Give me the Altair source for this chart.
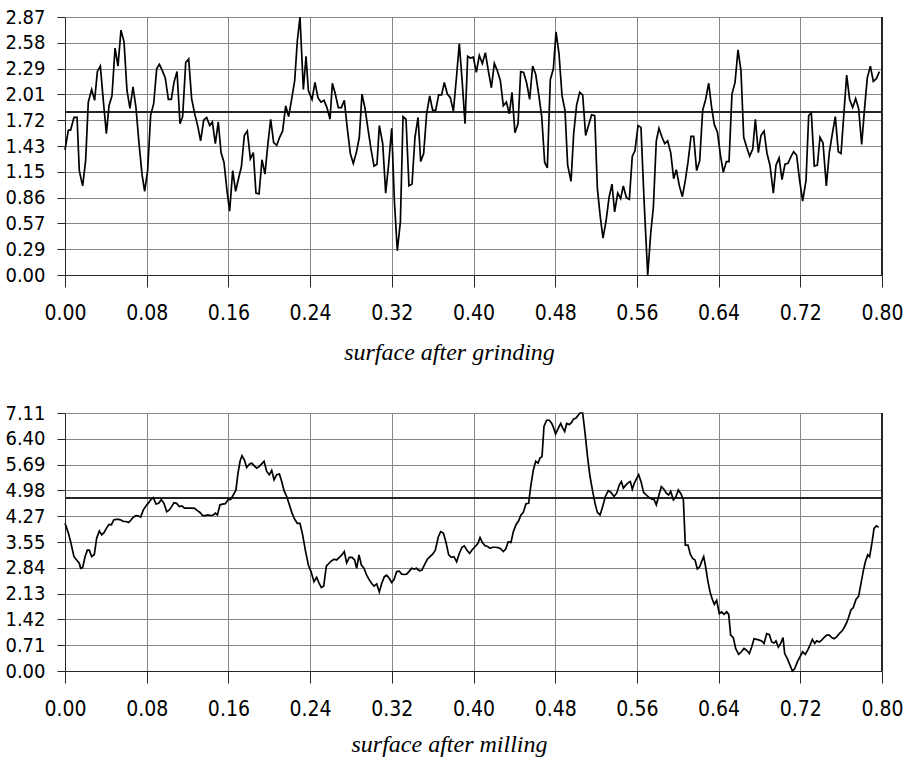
import altair as alt
import pandas as pd

# Roughness profiles: (position along the surface, profile height)
grinding = [
    (0.0000, 1.39), (0.0033, 1.61), (0.0055, 1.61), (0.0088, 1.75), (0.0118, 1.75), (0.0140, 1.16),
    (0.0173, 0.99), (0.0202, 1.27), (0.0228, 1.92), (0.0261, 2.06), (0.0290, 1.94), (0.0317, 2.26),
    (0.0346, 2.32), (0.0375, 1.94), (0.0405, 1.57), (0.0431, 1.88), (0.0460, 1.99), (0.0490, 2.52),
    (0.0519, 2.32), (0.0548, 2.72), (0.0578, 2.59), (0.0607, 2.05), (0.0636, 1.85), (0.0666, 2.09),
    (0.0695, 1.86), (0.0725, 1.46), (0.0754, 1.12), (0.0780, 0.93), (0.0809, 1.16), (0.0839, 1.78),
    (0.0868, 1.90), (0.0898, 2.29), (0.0924, 2.34), (0.0953, 2.27), (0.0982, 2.19), (0.1012, 1.95),
    (0.1041, 1.95), (0.1067, 2.14), (0.1097, 2.26), (0.1126, 1.68), (0.1152, 1.76), (0.1182, 2.36),
    (0.1211, 2.40), (0.1240, 1.96), (0.1270, 1.79), (0.1299, 1.66), (0.1328, 1.49), (0.1358, 1.72),
    (0.1387, 1.75), (0.1417, 1.66), (0.1443, 1.70), (0.1472, 1.46), (0.1501, 1.70), (0.1528, 1.36),
    (0.1557, 1.25), (0.1586, 0.94), (0.1612, 0.71), (0.1642, 1.16), (0.1671, 0.93), (0.1701, 1.08),
    (0.1727, 1.20), (0.1756, 1.55), (0.1785, 1.60), (0.1815, 1.29), (0.1844, 1.36), (0.1870, 0.91),
    (0.1900, 0.90), (0.1929, 1.28), (0.1958, 1.12), (0.1988, 1.47), (0.2014, 1.73), (0.2043, 1.47),
    (0.2073, 1.44), (0.2102, 1.53), (0.2131, 1.60), (0.2161, 1.88), (0.2190, 1.76), (0.2219, 1.95),
    (0.2249, 2.16), (0.2275, 2.60), (0.2301, 2.866),
    (0.2334, 2.06), (0.2360, 2.43), (0.2383, 2.05), (0.2419, 1.95), (0.2448, 2.14), (0.2477, 1.97),
    (0.2507, 1.92), (0.2536, 1.94), (0.2565, 1.86), (0.2595, 1.73), (0.2618, 2.13), (0.2647, 2.01),
    (0.2676, 1.86), (0.2706, 1.86), (0.2735, 1.94), (0.2765, 1.62), (0.2794, 1.35), (0.2823, 1.24),
    (0.2853, 1.36), (0.2882, 1.53), (0.2908, 2.01), (0.2938, 1.85), (0.2967, 1.62), (0.2996, 1.40),
    (0.3026, 1.21), (0.3055, 1.23), (0.3078, 1.66), (0.3111, 1.46), (0.3140, 0.91), (0.3169, 1.23),
    (0.3199, 1.63), (0.3225, 0.83), (0.3254, 0.27), (0.3284, 0.59), (0.3310, 1.76), (0.3339, 1.73),
    (0.3368, 0.99), (0.3398, 1.01), (0.3427, 1.53), (0.3457, 1.75), (0.3483, 1.26), (0.3512, 1.35),
    (0.3541, 1.79), (0.3571, 1.99), (0.3600, 1.83), (0.3630, 1.83), (0.3659, 2.00), (0.3688, 2.00),
    (0.3714, 2.14), (0.3744, 2.01), (0.3773, 1.97), (0.3803, 1.82), (0.3832, 2.18), (0.3861, 2.57),
    (0.3891, 2.12), (0.3917, 1.68), (0.3943, 2.43), (0.3969, 2.41), (0.3998, 2.42), (0.4028, 2.25),
    (0.4057, 2.44), (0.4087, 2.35), (0.4116, 2.47), (0.4145, 2.27), (0.4175, 2.08), (0.4204, 2.35),
    (0.4233, 2.27), (0.4263, 2.16), (0.4292, 1.88), (0.4322, 1.92), (0.4351, 1.79), (0.4377, 2.03),
    (0.4406, 1.58), (0.4436, 1.68), (0.4462, 2.26), (0.4491, 2.25), (0.4521, 2.13), (0.4550, 1.95),
    (0.4579, 2.32), (0.4609, 2.23), (0.4638, 2.01), (0.4668, 1.76), (0.4697, 1.25), (0.4723, 1.19),
    (0.4752, 2.17), (0.4782, 2.29), (0.4808, 2.70), (0.4837, 2.46), (0.4867, 1.99), (0.4896, 1.83),
    (0.4922, 1.22), (0.4955, 1.04), (0.4981, 1.57), (0.5010, 1.89), (0.5040, 2.03), (0.5069, 2.00),
    (0.5098, 1.55), (0.5128, 1.67),
    (0.5157, 1.78), (0.5187, 1.77), (0.5213, 0.96), (0.5242, 0.64), (0.5268, 0.41), (0.5298, 0.60),
    (0.5327, 0.86), (0.5356, 1.01), (0.5382, 0.70), (0.5412, 0.91), (0.5441, 0.85), (0.5467, 0.99),
    (0.5497, 0.86), (0.5526, 0.84), (0.5555, 1.32), (0.5581, 1.38), (0.5611, 1.66), (0.5640, 1.64),
    (0.5670, 0.83), (0.5706, 0.00), (0.5735, 0.46), (0.5761, 0.75), (0.5790, 1.49), (0.5816, 1.63),
    (0.5846, 1.53), (0.5872, 1.46), (0.5901, 1.49), (0.5931, 1.36), (0.5960, 1.07), (0.5986, 1.17),
    (0.6016, 0.99), (0.6045, 0.87), (0.6074, 1.05), (0.6100, 1.25), (0.6130, 1.54), (0.6156, 1.54),
    (0.6185, 1.16), (0.6215, 1.27), (0.6244, 1.83), (0.6273, 1.95), (0.6303, 2.13), (0.6332, 1.86),
    (0.6358, 1.67), (0.6388, 1.59), (0.6417, 1.34), (0.6446, 1.14), (0.6476, 1.26), (0.6502, 1.26),
    (0.6531, 2.01), (0.6561, 2.14), (0.6590, 2.50), (0.6619, 2.27), (0.6646, 1.53), (0.6675, 1.42),
    (0.6704, 1.32), (0.6734, 1.40), (0.6760, 1.73), (0.6789, 1.36), (0.6815, 1.55), (0.6845, 1.60),
    (0.6874, 1.35), (0.6903, 1.22), (0.6936, 0.91), (0.6962, 1.22), (0.6992, 1.30), (0.7021, 1.06),
    (0.7050, 1.23), (0.7080, 1.24), (0.7106, 1.31), (0.7135, 1.37), (0.7164, 1.33), (0.7191, 1.07),
    (0.7223, 0.82), (0.7256, 1.05), (0.7282, 1.77), (0.7308, 1.80), (0.7337, 1.21), (0.7367, 1.22),
    (0.7393, 1.53), (0.7422, 1.47), (0.7455, 0.99), (0.7484, 1.36), (0.7514, 1.57), (0.7543, 1.76),
    (0.7572, 1.37), (0.7599, 1.35), (0.7628, 1.81), (0.7654, 2.22), (0.7683, 1.95), (0.7713, 1.86),
    (0.7742, 1.96), (0.7771, 1.85), (0.7801, 1.45), (0.7830, 1.86), (0.7856, 2.19), (0.7886, 2.32),
    (0.7915, 2.15), (0.7945, 2.18), (0.7974, 2.26),
]

milling = [
    (0.0000, 4.07), (0.0033, 3.80), (0.0055, 3.56), (0.0088, 3.15), (0.0114, 3.06), (0.0140, 2.97),
    (0.0153, 2.83), (0.0173, 2.85), (0.0196, 3.15), (0.0219, 3.33), (0.0238, 3.33), (0.0261, 3.15),
    (0.0287, 3.21), (0.0310, 3.66), (0.0336, 3.86), (0.0359, 3.75), (0.0382, 3.81), (0.0405, 3.93),
    (0.0431, 4.04), (0.0454, 4.03), (0.0477, 4.16), (0.0499, 4.18), (0.0526, 4.18), (0.0548, 4.16),
    (0.0571, 4.12), (0.0597, 4.12), (0.0623, 4.09), (0.0646, 4.16), (0.0669, 4.24), (0.0695, 4.28),
    (0.0721, 4.27), (0.0741, 4.24), (0.0767, 4.44), (0.0793, 4.55), (0.0819, 4.64), (0.0839, 4.72),
    (0.0865, 4.78), (0.0891, 4.60), (0.0917, 4.62), (0.0943, 4.72), (0.0969, 4.62), (0.0996, 4.39),
    (0.1022, 4.44), (0.1044, 4.53), (0.1067, 4.64), (0.1093, 4.62), (0.1120, 4.53), (0.1146, 4.55),
    (0.1169, 4.49), (0.1191, 4.49), (0.1217, 4.49), (0.1240, 4.49), (0.1270, 4.48), (0.1296, 4.42),
    (0.1322, 4.37), (0.1348, 4.28), (0.1374, 4.28), (0.1400, 4.30), (0.1426, 4.28), (0.1452, 4.30),
    (0.1472, 4.35), (0.1492, 4.30), (0.1518, 4.58), (0.1544, 4.60), (0.1570, 4.61), (0.1596, 4.72),
    (0.1622, 4.73), (0.1648, 4.85), (0.1674, 4.99), (0.1694, 5.45), (0.1714, 5.78), (0.1733, 5.93),
    (0.1756, 5.82), (0.1779, 5.61), (0.1805, 5.70), (0.1828, 5.73), (0.1851, 5.66), (0.1877, 5.59),
    (0.1903, 5.64), (0.1926, 5.71), (0.1949, 5.78), (0.1975, 5.50), (0.2001, 5.41), (0.2024, 5.53),
    (0.2047, 5.27), (0.2073, 5.41), (0.2099, 5.43), (0.2122, 5.22), (0.2145, 4.97), (0.2171, 4.81),
    (0.2197, 4.58), (0.2223, 4.35), (0.2249, 4.18), (0.2275, 4.07), (0.2301, 4.07),
    (0.2327, 3.75), (0.2353, 3.33), (0.2383, 2.92), (0.2409, 2.74), (0.2438, 2.46), (0.2464, 2.58),
    (0.2487, 2.43), (0.2510, 2.30), (0.2533, 2.34), (0.2559, 2.89), (0.2585, 2.97), (0.2611, 3.04),
    (0.2637, 3.08), (0.2660, 3.06), (0.2686, 3.13), (0.2709, 3.19), (0.2735, 3.29), (0.2758, 2.98),
    (0.2784, 3.13), (0.2810, 3.13), (0.2836, 3.06), (0.2856, 2.83), (0.2879, 3.20), (0.2902, 2.92),
    (0.2928, 2.83), (0.2954, 2.64), (0.2980, 2.51), (0.3003, 2.41), (0.3026, 2.34), (0.3052, 2.40),
    (0.3078, 2.18), (0.3101, 2.41), (0.3127, 2.60), (0.3150, 2.64), (0.3176, 2.55), (0.3199, 2.44),
    (0.3222, 2.52), (0.3248, 2.74), (0.3274, 2.75), (0.3297, 2.67), (0.3323, 2.66), (0.3346, 2.67),
    (0.3368, 2.74), (0.3395, 2.83), (0.3417, 2.81), (0.3443, 2.83), (0.3470, 2.76), (0.3496, 2.78),
    (0.3522, 2.94), (0.3548, 3.08), (0.3574, 3.15), (0.3600, 3.22), (0.3626, 3.33), (0.3656, 3.70),
    (0.3679, 3.84), (0.3705, 3.80), (0.3731, 3.54), (0.3757, 3.20), (0.3783, 3.13), (0.3809, 3.15),
    (0.3835, 3.01), (0.3861, 3.24), (0.3887, 3.41), (0.3910, 3.45), (0.3936, 3.33), (0.3962, 3.24),
    (0.3989, 3.35), (0.4018, 3.43), (0.4044, 3.52), (0.4064, 3.68), (0.4087, 3.54), (0.4113, 3.45),
    (0.4139, 3.43), (0.4162, 3.38), (0.4188, 3.41), (0.4214, 3.41), (0.4240, 3.40), (0.4266, 3.37),
    (0.4292, 3.29), (0.4315, 3.36), (0.4341, 3.56), (0.4367, 3.54), (0.4390, 3.84), (0.4416, 4.03),
    (0.4442, 4.14), (0.4465, 4.30), (0.4488, 4.37), (0.4514, 4.61), (0.4540, 4.62), (0.4560, 5.08),
    (0.4586, 5.54), (0.4609, 5.78), (0.4632, 5.73), (0.4651, 5.87), (0.4671, 5.91), (0.4690, 6.74),
    (0.4716, 6.91), (0.4743, 6.91), (0.4765, 6.83), (0.4782, 6.72), (0.4804, 6.53), (0.4827, 6.67),
    (0.4854, 6.82), (0.4873, 6.70), (0.4893, 6.60), (0.4912, 6.82), (0.4938, 6.79), (0.4961, 6.85),
    (0.4978, 6.94), (0.5004, 6.97), (0.5023, 7.04), (0.5043, 7.11), (0.5069, 7.11), (0.5092, 6.56),
    (0.5118, 5.87), (0.5141, 5.36),
    (0.5167, 4.95), (0.5190, 4.62), (0.5213, 4.37), (0.5239, 4.30), (0.5265, 4.53), (0.5291, 4.81),
    (0.5320, 4.97), (0.5346, 4.92), (0.5376, 4.81), (0.5402, 4.90), (0.5428, 5.13), (0.5448, 5.22),
    (0.5467, 5.04), (0.5493, 5.13), (0.5516, 5.19), (0.5536, 5.22), (0.5555, 5.01), (0.5575, 5.18),
    (0.5598, 5.31), (0.5617, 5.41), (0.5640, 5.22), (0.5666, 4.92), (0.5692, 4.85), (0.5715, 4.79),
    (0.5741, 4.74), (0.5767, 4.73), (0.5790, 4.58), (0.5816, 4.85), (0.5839, 5.08), (0.5865, 5.01),
    (0.5888, 4.90), (0.5911, 4.85), (0.5931, 4.95), (0.5957, 4.72), (0.5980, 4.79), (0.6006, 4.99),
    (0.6032, 4.88), (0.6055, 4.72), (0.6074, 3.47), (0.6100, 3.47), (0.6123, 3.22), (0.6146, 3.10),
    (0.6169, 3.06), (0.6192, 2.81), (0.6215, 2.87), (0.6237, 3.04), (0.6254, 3.15), (0.6273, 2.87),
    (0.6293, 2.51), (0.6316, 2.18), (0.6339, 1.97), (0.6358, 1.84), (0.6381, 1.95), (0.6407, 1.58),
    (0.6430, 1.63), (0.6453, 1.56), (0.6479, 1.63), (0.6499, 1.56), (0.6518, 0.99), (0.6544, 0.92),
    (0.6567, 0.62), (0.6597, 0.46), (0.6623, 0.53), (0.6649, 0.62), (0.6675, 0.57), (0.6701, 0.48),
    (0.6724, 0.66), (0.6747, 0.89), (0.6773, 0.87), (0.6799, 0.85), (0.6822, 0.83), (0.6845, 0.76),
    (0.6871, 1.03), (0.6897, 1.00), (0.6920, 0.80), (0.6943, 0.77), (0.6962, 0.83), (0.6985, 0.66),
    (0.7008, 0.76), (0.7031, 0.92), (0.7047, 0.48), (0.7073, 0.34), (0.7099, 0.16), (0.7122, 0.00),
    (0.7145, 0.06), (0.7171, 0.25), (0.7197, 0.39), (0.7223, 0.53), (0.7249, 0.46), (0.7275, 0.59),
    (0.7295, 0.71), (0.7318, 0.87), (0.7341, 0.76), (0.7360, 0.83), (0.7386, 0.80), (0.7409, 0.85),
    (0.7432, 0.92), (0.7458, 0.99), (0.7484, 0.99), (0.7507, 0.92), (0.7530, 0.89), (0.7556, 0.94),
    (0.7582, 1.03), (0.7608, 1.10), (0.7634, 1.22), (0.7654, 1.33), (0.7674, 1.49), (0.7696, 1.68),
    (0.7719, 1.75), (0.7745, 1.97), (0.7771, 2.06), (0.7794, 2.41), (0.7817, 2.76), (0.7837, 3.01),
    (0.7860, 3.20), (0.7879, 3.15), (0.7902, 3.54), (0.7922, 3.93), (0.7945, 4.00), (0.7967, 3.96),
]

# Mean line levels
grinding_mean = 1.81
milling_mean = 4.76

# Axis ticks
x_ticks = [0.00, 0.08, 0.16, 0.24, 0.32, 0.40, 0.48, 0.56, 0.64, 0.72, 0.80]
grinding_ticks = [0, 0.2866, 0.5732, 0.8598, 1.1464, 1.433, 1.7196, 2.0062, 2.2928, 2.5794, 2.866]
milling_ticks = [0, 0.711, 1.422, 2.133, 2.844, 3.554, 4.266, 4.977, 5.688, 6.399, 7.11]

LABEL_FONT = "DejaVu Sans Condensed, sans-serif"
TITLE_FONT = "Liberation Serif, Times New Roman, serif"
GRID = "#858585"
DARK = "#262626"


def profile_panel(points, mean, y_ticks, caption, caption_y):
    df = pd.DataFrame(points, columns=["pos", "height"])
    x_scale = alt.Scale(domain=[0, 0.8], nice=False, zero=False)
    y_scale = alt.Scale(domain=[y_ticks[0], y_ticks[-1]], nice=False, zero=False)

    x_axis = alt.Axis(
        values=x_ticks, tickCount=len(x_ticks), format=".2f", grid=True,
        gridColor=GRID, gridWidth=1, domainColor=DARK, tickColor=DARK,
        tickSize=12, labelPadding=15, labelFont=LABEL_FONT, labelFontSize=21,
        labelColor="black", labelFlush=False, labelOverlap=False,
        title=caption, titleFont=TITLE_FONT, titleFontSize=24, titleFontStyle="italic",
        titleFontWeight="normal", titleColor="black", titleX=384, titleY=caption_y,
        titleAlign="center", titleBaseline="alphabetic",
    )
    y_axis = alt.Axis(
        values=y_ticks, tickCount=len(y_ticks), format=".2f", grid=True,
        gridColor=GRID, gridWidth=1, domainColor=DARK, tickColor=DARK,
        tickSize=8, labelPadding=12, labelFont=LABEL_FONT, labelFontSize=20,
        labelColor="black", labelFlush=False, labelOverlap=False, title=None,
    )

    line = alt.Chart(df).mark_line(color="black", strokeWidth=1.7).encode(
        x=alt.X("pos:Q", scale=x_scale, axis=x_axis),
        y=alt.Y("height:Q", scale=y_scale, axis=y_axis),
    )
    mean_rule = alt.Chart(df).mark_rule(color=DARK, strokeWidth=1).encode(
        y=alt.datum(mean)
    )
    right_edge = alt.Chart(df).mark_rule(color=DARK, strokeWidth=1).encode(
        x=alt.datum(0.8)
    )
    return alt.layer(mean_rule, line, right_edge).properties(width=817, height=258)


top = profile_panel(grinding, grinding_mean, grinding_ticks, "surface after grinding", 84)
bottom = profile_panel(milling, milling_mean, milling_ticks, "surface after milling", 80)

chart = (
    alt.vconcat(top, bottom, spacing=39)
    .properties(padding={"left": 4, "top": 7, "right": 0, "bottom": 4}, background="white")
    .configure_view(stroke=None)
)

chart.save("out.html", embed_options={"renderer": "svg", "actions": False})
